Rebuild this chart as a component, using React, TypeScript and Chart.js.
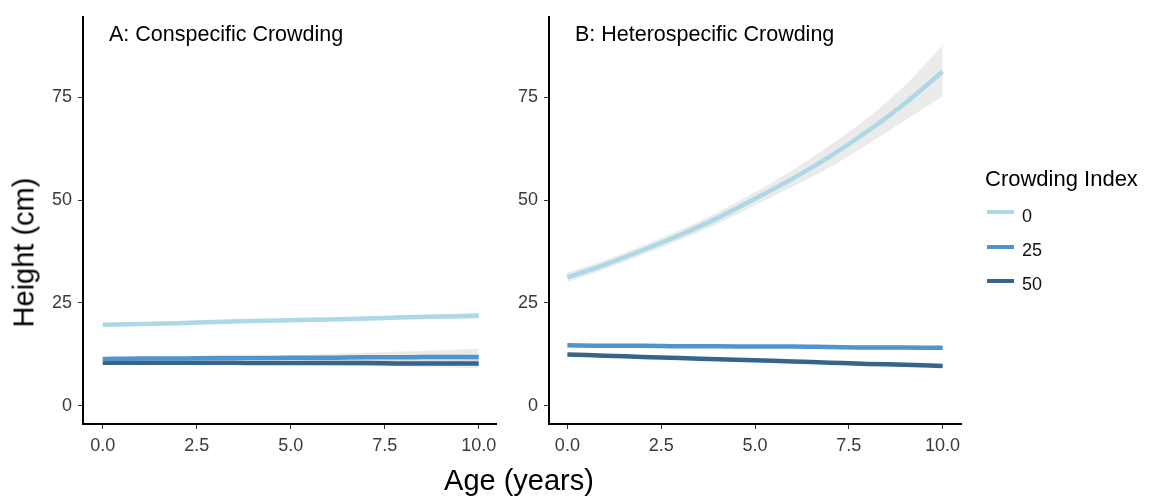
import React, { useEffect, useRef } from "react";
import { Chart, registerables } from "chart.js";

Chart.register(...registerables);

// ---------- data ----------
const AGE = [0, 1, 2, 3, 4, 5, 6, 7, 8, 9, 10];
const X_TICKS = [0, 2.5, 5, 7.5, 10];
const Y_TICKS = [0, 25, 50, 75];
const CROWDING_LEVELS = ["0", "25", "50"];
const LINE_COLORS = ["#ADD8E6", "#4F94CD", "#36648B"];
const RIBBON_COLOR = "rgba(153,153,153,0.2)";

// Panel A: Conspecific crowding
const A_FIT_0 = [19.7, 19.9, 20.1, 20.4, 20.6, 20.8, 21.0, 21.2, 21.5, 21.7, 21.9];
const A_HI_0 = [20.1, 20.3, 20.5, 20.7, 20.9, 21.1, 21.3, 21.6, 21.9, 22.2, 22.6];
const A_LO_0 = [19.3, 19.5, 19.7, 20.0, 20.3, 20.5, 20.7, 20.8, 21.0, 21.2, 21.3];

const A_FIT_25 = [11.4, 11.5, 11.5, 11.6, 11.6, 11.7, 11.7, 11.8, 11.8, 11.9, 11.9];
const A_HI_25 = [11.9, 11.9, 11.9, 12.0, 12.1, 12.3, 12.6, 12.9, 13.2, 13.5, 13.9];
const A_LO_25 = [10.9, 11.1, 11.2, 11.2, 11.2, 11.1, 10.9, 10.7, 10.5, 10.3, 10.0];

const A_FIT_50 = [10.5, 10.5, 10.5, 10.5, 10.4, 10.4, 10.4, 10.4, 10.3, 10.3, 10.3];
const A_HI_50 = [10.9, 10.9, 10.9, 10.9, 10.9, 10.9, 11.0, 11.1, 11.2, 11.3, 11.4];
const A_LO_50 = [10.1, 10.1, 10.1, 10.1, 10.0, 9.9, 9.8, 9.7, 9.5, 9.4, 9.2];

// Panel B: Heterospecific crowding
const B_FIT_0 = [31.2, 34.3, 37.8, 41.5, 45.6, 50.3, 55.2, 60.6, 66.7, 73.5, 81.2];
const B_HI_0 = [32.4, 35.4, 38.9, 42.7, 47.0, 51.9, 57.3, 63.3, 70.0, 77.9, 87.6];
const B_LO_0 = [30.1, 33.2, 36.7, 40.3, 44.2, 48.7, 53.2, 58.0, 63.5, 69.4, 75.2];

const B_FIT_25 = [14.7, 14.6, 14.6, 14.5, 14.5, 14.4, 14.4, 14.3, 14.2, 14.2, 14.1];
const B_HI_25 = [15.0, 14.9, 14.9, 14.8, 14.8, 14.7, 14.7, 14.7, 14.6, 14.6, 14.6];
const B_LO_25 = [14.4, 14.3, 14.3, 14.2, 14.2, 14.1, 14.1, 13.9, 13.8, 13.8, 13.6];

const B_FIT_50 = [12.5, 12.2, 11.9, 11.6, 11.3, 11.1, 10.8, 10.5, 10.2, 10.0, 9.7];
const B_HI_50 = [12.8, 12.5, 12.2, 11.9, 11.6, 11.4, 11.1, 10.8, 10.6, 10.4, 10.2];
const B_LO_50 = [12.2, 11.9, 11.6, 11.3, 11.0, 10.8, 10.5, 10.2, 9.8, 9.6, 9.2];

const FONT = "'Liberation Sans', Arial, Helvetica, sans-serif";

type PanelProps = {
  fits: number[][];
  his: number[][];
  los: number[][];
  xMin: number;
  xMax: number;
  left: number;
  width: number;
  yAxisWidth: number;
  padRight: number;
};

const H = 503;

function Panel(props: PanelProps) {
  const ref = useRef<HTMLCanvasElement | null>(null);
  useEffect(() => {
    if (!ref.current) return;
    const pts = (arr: number[]) => AGE.map((a, i) => ({ x: a, y: arr[i] }));
    const datasets: any[] = [];
    props.fits.forEach((_, g) => {
      datasets.push({
        label: "hi" + g,
        data: pts(props.his[g]),
        borderWidth: 0,
        pointRadius: 0,
        fill: false,
        order: 2,
        cubicInterpolationMode: "monotone",
      });
      datasets.push({
        label: "lo" + g,
        data: pts(props.los[g]),
        borderWidth: 0,
        pointRadius: 0,
        fill: "-1",
        backgroundColor: RIBBON_COLOR,
        order: 2,
        cubicInterpolationMode: "monotone",
      });
    });
    props.fits.forEach((f, g) => {
      datasets.push({
        label: CROWDING_LEVELS[g],
        data: pts(f),
        borderColor: LINE_COLORS[g],
        borderWidth: 4.5,
        pointRadius: 0,
        fill: false,
        order: 1,
        cubicInterpolationMode: "monotone",
      });
    });
    const chart = new Chart(ref.current, {
      type: "line",
      data: { datasets },
      options: {
        animation: false,
        responsive: false,
        events: [],
        layout: { padding: { top: 13, right: props.padRight, left: 0, bottom: 0 } },
        plugins: { legend: { display: false }, tooltip: { enabled: false } },
        scales: {
          x: {
            type: "linear",
            min: props.xMin,
            max: props.xMax,
            afterFit: (s: any) => {
              s.height = H - 424;
            },
            afterBuildTicks: (s: any) => {
              s.ticks = X_TICKS.map((v) => ({ value: v }));
            },
            grid: {
              display: true,
              drawOnChartArea: false,
              drawTicks: true,
              tickLength: 5,
              color: "#333333",
              lineWidth: 1,
            },
            border: { display: true, color: "#000000", width: 2 },
            ticks: {
              font: { family: FONT, size: 18 },
              color: "#3a3a3a",
              padding: 6,
              maxRotation: 0,
              autoSkip: false,
              callback: (v: any) => Number(v).toFixed(1),
            },
          },
          y: {
            type: "linear",
            min: -4.4,
            max: 94.5,
            afterFit: (s: any) => {
              s.width = props.yAxisWidth;
            },
            afterBuildTicks: (s: any) => {
              s.ticks = Y_TICKS.map((v) => ({ value: v }));
            },
            grid: {
              display: true,
              drawOnChartArea: false,
              drawTicks: true,
              tickLength: 5,
              color: "#333333",
              lineWidth: 1,
            },
            border: { display: true, color: "#000000", width: 2 },
            ticks: {
              font: { family: FONT, size: 18 },
              color: "#3a3a3a",
              padding: 6,
              autoSkip: false,
              callback: (v: any) => String(v),
            },
          },
        },
      },
    });
    return () => chart.destroy();
  }, []);
  return (
    <canvas
      ref={ref}
      width={props.width}
      height={H}
      style={{ position: "absolute", left: props.left, top: 0, display: "block" }}
    />
  );
}

function Txt(props: { x: number; baseline: number; size: number; children: any; color?: string }) {
  return (
    <div
      style={{
        position: "absolute",
        left: props.x,
        top: props.baseline - 0.8465 * props.size,
        fontFamily: FONT,
        fontSize: props.size,
        lineHeight: 1,
        whiteSpace: "nowrap",
        color: props.color || "#000",
      }}
    >
      {props.children}
    </div>
  );
}

export default function App() {
  const legendY = [212.3, 246.7, 280.7];
  const legendBase = [222, 256.5, 290];
  return (
    <div
      style={{
        position: "absolute",
        left: 0,
        top: 0,
        width: 1153,
        height: 503,
        background: "#fff",
        overflow: "hidden",
      }}
    >
      <Panel
        fits={[A_FIT_0, A_FIT_25, A_FIT_50]}
        his={[A_HI_0, A_HI_25, A_HI_50]}
        los={[A_LO_0, A_LO_25, A_LO_50]}
        xMin={-0.525}
        xMax={10.46}
        left={0}
        width={520}
        yAxisWidth={83}
        padRight={24}
      />
      <Panel
        fits={[B_FIT_0, B_FIT_25, B_FIT_50]}
        his={[B_HI_0, B_HI_25, B_HI_50]}
        los={[B_LO_0, B_LO_25, B_LO_50]}
        xMin={-0.49}
        xMax={10.49}
        left={500}
        width={490}
        yAxisWidth={49}
        padRight={29}
      />
      <Txt x={109} baseline={42} size={21.5}>A: Conspecific Crowding</Txt>
      <Txt x={575} baseline={42} size={21.5}>B: Heterospecific Crowding</Txt>
      <div
        style={{
          position: "absolute",
          left: 24 - 150,
          top: 252.5 - 14.5,
          width: 300,
          height: 29,
          fontFamily: FONT,
          fontSize: 29,
          lineHeight: 1,
          textAlign: "center",
          transform: "rotate(-90deg)",
          whiteSpace: "nowrap",
          color: "#000",
        }}
      >
        Height (cm)
      </div>
      <div
        style={{
          position: "absolute",
          left: 519 - 150,
          top: 491 - 0.8465 * 29,
          width: 300,
          fontFamily: FONT,
          fontSize: 29,
          lineHeight: 1,
          textAlign: "center",
          whiteSpace: "nowrap",
          color: "#000",
        }}
      >
        Age (years)
      </div>
      <Txt x={985} baseline={187} size={22}>Crowding Index</Txt>
      {CROWDING_LEVELS.map((lv, i) => (
        <React.Fragment key={lv}>
          <div
            style={{
              position: "absolute",
              left: 987,
              top: legendY[i] - 2,
              width: 27,
              height: 4,
              background: LINE_COLORS[i],
            }}
          />
          <Txt x={1022} baseline={legendBase[i]} size={18} color="#111">
            {lv}
          </Txt>
        </React.Fragment>
      ))}
    </div>
  );
}
